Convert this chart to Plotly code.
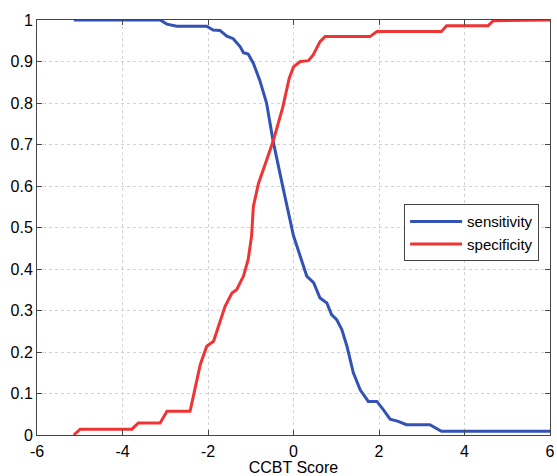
import plotly.graph_objects as go

sens_x = [-5.14, -3.12, -2.96, -2.73, -2.03, -1.88, -1.72, -1.56, -1.41, -1.25, -1.17, -1.06,
          -0.94, -0.79, -0.63, -0.48, -0.25, 0.0, 0.31, 0.47, 0.62, 0.78, 0.89, 1.01, 1.13,
          1.25, 1.40, 1.56, 1.75, 1.95, 2.10, 2.26, 2.45, 2.64, 3.19, 3.46, 6.0]
sens_y = [1.0, 1.0, 0.99, 0.985, 0.985, 0.976, 0.975, 0.961, 0.955, 0.936, 0.921, 0.918,
          0.896, 0.855, 0.80, 0.71, 0.598, 0.48, 0.383, 0.367, 0.33, 0.318, 0.29, 0.278, 0.254,
          0.214, 0.15, 0.109, 0.081, 0.081, 0.061, 0.038, 0.033, 0.025, 0.025, 0.009, 0.009]

spec_x = [-5.14, -4.99, -3.78, -3.63, -3.12, -2.96, -2.42, -2.30, -2.18, -2.03, -1.87, -1.60,
          -1.44, -1.33, -1.17, -1.06, -0.98, -0.94, -0.82, -0.63, -0.47, -0.25, -0.10, 0.0,
          0.16, 0.35, 0.46, 0.62, 0.74, 1.79, 1.95, 3.46, 3.58, 4.55, 4.67, 6.0]
spec_y = [0.0, 0.014, 0.014, 0.029, 0.029, 0.057, 0.057, 0.117, 0.17, 0.214, 0.226, 0.31,
          0.342, 0.35, 0.383, 0.423, 0.48, 0.55, 0.606, 0.662, 0.71, 0.79, 0.86, 0.887,
          0.9, 0.902, 0.916, 0.948, 0.96, 0.96, 0.972, 0.972, 0.986, 0.986, 0.998, 1.0]

x_tickvals = [-6, -4, -2, 0, 2, 4, 6]
x_ticktext = ["-6", "-4", "-2", "0", "2", "4", "6"]

x_title = "CCBT Score"
names = ["sensitivity", "specificity"]

fig = go.Figure()
fig.add_trace(go.Scatter(x=sens_x, y=sens_y, mode="lines", name=names[0],
                         line=dict(color="#3352b5", width=3)))
fig.add_trace(go.Scatter(x=spec_x, y=spec_y, mode="lines", name=names[1],
                         line=dict(color="#f03434", width=3)))

axis_common = dict(
    showline=True, linecolor="#444444", linewidth=1, mirror="ticks",
    ticks="inside", ticklen=5, tickcolor="#444444",
    showgrid=True, gridcolor="#d2d2d2", griddash="dot", gridwidth=1,
    zeroline=False, tickfont=dict(size=16, color="black"),
)

fig.update_xaxes(range=[-6, 6], tickvals=x_tickvals, ticktext=x_ticktext, ticklabelstandoff=2,
                 title=dict(text=x_title, font=dict(size=16, color="black"), standoff=4),
                 **axis_common)
fig.update_yaxes(range=[0, 1], dtick=0.1, tick0=0, ticklabelstandoff=0, **axis_common)

fig.update_layout(
    width=557, height=476,
    margin=dict(l=37, r=7, t=20, b=41, autoexpand=False),
    paper_bgcolor="white", plot_bgcolor="white",
    font=dict(family="Liberation Sans, Arial, sans-serif", size=15, color="black"),
    legend=dict(x=0.7156, y=0.556, xanchor="left", yanchor="top",
                bordercolor="#444444", borderwidth=1, bgcolor="white",
                itemwidth=52, tracegroupgap=0, font=dict(size=15)),
    showlegend=True,
)

fig.write_html("out.html", config={"displayModeBar": False},
               post_script="document.body.style.margin='0px';document.body.style.overflow='hidden';")
